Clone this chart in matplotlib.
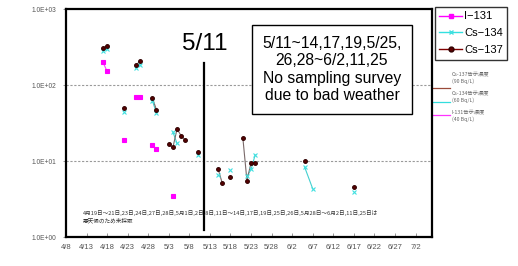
import numpy as np
import pandas as pd
import matplotlib
matplotlib.use("Agg")
import matplotlib.pyplot as plt
from matplotlib.lines import Line2D
from matplotlib.transforms import blended_transform_factory

plt.rcParams['font.family'] = ['Liberation Sans', 'Noto Sans CJK JP', 'DejaVu Sans']

# ---------------- data ----------------
dates = ["4/17", "4/18", "4/22", "4/25", "4/26", "4/29", "4/30",
         "5/3", "5/4", "5/5", "5/6", "5/7", "5/10", "5/15", "5/16",
         "5/18", "5/21", "5/22", "5/23", "5/24", "6/5", "6/7", "6/17"]
# connected runs of sampling days (lines join points within one run)
runs = [0, 0, 1, 2, 2, 3, 3, 4, 4, 4, 4, 4, 5, 6, 6, 7, 8, 8, 8, 8, 9, 9, 10]
nan = np.nan
i131 = [199, 151, 19, 70, 70, 16.3, 14.3,
        nan, 3.5, nan, nan, nan, nan, nan, nan,
        nan, nan, nan, nan, nan, nan, nan, nan]
cs134 = [280, 300, 44, 165, 185, 62, 43,
         nan, 24, 17, nan, nan, 12, 6.5, nan,
         7.6, nan, 6.3, 7.8, 12, 8.4, 4.3, 3.9]
cs137 = [304, 329, 50, 183, 205, 68, 47,
         16.6, 15.1, 26.4, 21.5, 18.9, 13.3, 7.8, 5.1,
         6.2, 20.3, 5.5, 9.5, 9.5, 10, nan, 4.6]

limits = {"Cs-137": 90, "Cs-134": 60, "I-131": 40}
limit_labels = ["Cs-137告示濃度\n(90 Bq/L)", "Cs-134告示濃度\n(60 Bq/L)", "I-131告示濃度\n(40 Bq/L)"]

xtick_start, xtick_end = "4/8", "7/2"
ytick_labels = ["1.0E+00", "1.0E+01", "1.0E+02", "1.0E+03"]

note_text = ("4月19日～21日,23日,24日,27日,28日,5月1日,2日,8日,11日～14日,17日,19日,25日,26日,5月28日～6月2日,11日,25日は\n"
             "悪天候のため未採取")
box_text = "5/11~14,17,19,5/25,\n26,28~6/2,11,25\nNo sampling survey\ndue to bad weather"

# ---------------- build ----------------
def to_dt(s):
    return pd.Timestamp("2011/" + s)

df = pd.DataFrame({"date": [to_dt(d) for d in dates], "run": runs,
                   "I-131": i131, "Cs-134": cs134, "Cs-137": cs137})

styles = {
    "I-131": dict(color="#ff00ff", marker="s", ms=2.5, mec="#ff00ff", mfc="#ff00ff", lcolor="#ff44ff"),
    "Cs-134": dict(color="#33e0e0", marker="x", ms=2.6, mec="#40e0e0", mfc="#40e0e0", lcolor="#44d0d0"),
    "Cs-137": dict(color="#800000", marker="o", ms=2.7, mec="#300000", mfc="#5a0000", lcolor="#7a6a6a"),
}

fig = plt.figure(figsize=(5.18, 2.66), dpi=100)
ax = fig.add_axes([66 / 518, 1 - 237 / 266, 366 / 518, 228 / 266])

ax.set_yscale("log")
ax.set_ylim(1, 1000)
x0 = to_dt("4/8")
ax.set_xlim(x0, x0 + pd.Timedelta(days=89))

for lvl in [10, 100]:
    ax.axhline(lvl, color="#9a9a9a", lw=0.8, ls=(0, (2, 1.5)), zorder=1)

order = ["Cs-134", "I-131", "Cs-137"]
for name in order:
    st = styles[name]
    for r, g in df.groupby("run"):
        g2 = g.dropna(subset=[name])
        if len(g2) > 1:
            ax.plot(g2["date"], g2[name], color=st["lcolor"], lw=0.8, zorder=2)
    ax.plot(df["date"], df[name], ls="none", marker=st["marker"], ms=st["ms"],
            mec=st["mec"], mfc=st["mfc"], mew=0.8, zorder=3)

# 5/11 vertical line
ax.axvline(to_dt("5/11") + pd.Timedelta(hours=12), ymin=0.031, ymax=0.763, color="black", lw=1.6, zorder=4)
fig.text(205 / 518, 1 - 44 / 266, "5/11", fontsize=17.5, ha="center", va="center")

# box
fig.text(332 / 518, 1 - 69.5 / 266, box_text, fontsize=11.3, ha="center", va="center",
         linespacing=1.2, zorder=10,
         bbox=dict(boxstyle="square,pad=0.68", fc="white", ec="black", lw=1.0))

# note
fig.text(83 / 518, 1 - 217 / 266, note_text, fontsize=4.05, ha="left", va="center",
         color="#333333", family=["Noto Sans CJK JP", "DejaVu Sans"], linespacing=1.3)

# axes styling
for sp in ax.spines.values():
    sp.set_linewidth(1.6)
    sp.set_color("black")

ax.set_yticks([1, 10, 100, 1000])
ax.set_yticklabels(ytick_labels)
ax.yaxis.set_minor_locator(matplotlib.ticker.NullLocator())
ax.tick_params(axis="y", length=2, width=0.6, color="#888888", labelsize=4.8, labelcolor="#555555", pad=5)

xt = pd.date_range(to_dt(xtick_start), to_dt(xtick_end), freq="5D")
ax.set_xticks(xt)
ax.set_xticklabels([f"{d.month}/{d.day}" for d in xt])
ax.tick_params(axis="x", direction="in", length=3, width=0.6, color="#888888", labelsize=5.5,
               labelcolor="#555555", pad=5)

# limit marker lines outside right
tr = blended_transform_factory(ax.transAxes, ax.transData)
lim_colors = ["#9a4a3a", "#33dddd", "#ff33ff"]
for (name, val), c in zip(limits.items(), lim_colors):
    ax.plot([1.0, 1.05], [val, val], transform=tr, color=c, lw=0.9, clip_on=False, zorder=1)
for lbl, yy in zip(limit_labels, [77.5, 96.5, 115.5]):
    fig.text(452 / 518, 1 - yy / 266, lbl, fontsize=3.8, ha="left", va="center", color="#666666",
             family=["Noto Sans CJK JP", "DejaVu Sans"], linespacing=1.5)

# legend
handles = []
labels = []
for name in ["I-131", "Cs-134", "Cs-137"]:
    st = styles[name]
    handles.append(Line2D([], [], color=st["color"], lw=1.0, marker=st["marker"], ms=3.5,
                          mec=st["mec"], mfc=st["mfc"]))
    labels.append(name.replace("-", "\u2212"))
leg = fig.legend(handles, labels, loc="upper left", bbox_to_anchor=(435 / 518, 1 - 7 / 266),
                 frameon=True, fancybox=False, edgecolor="black", fontsize=8,
                 handlelength=2.0, handletextpad=0.2, labelspacing=0.62, borderpad=0.4,
                 borderaxespad=0)
leg.get_frame().set_linewidth(1.0)

fig.savefig("out.png", dpi=100)
